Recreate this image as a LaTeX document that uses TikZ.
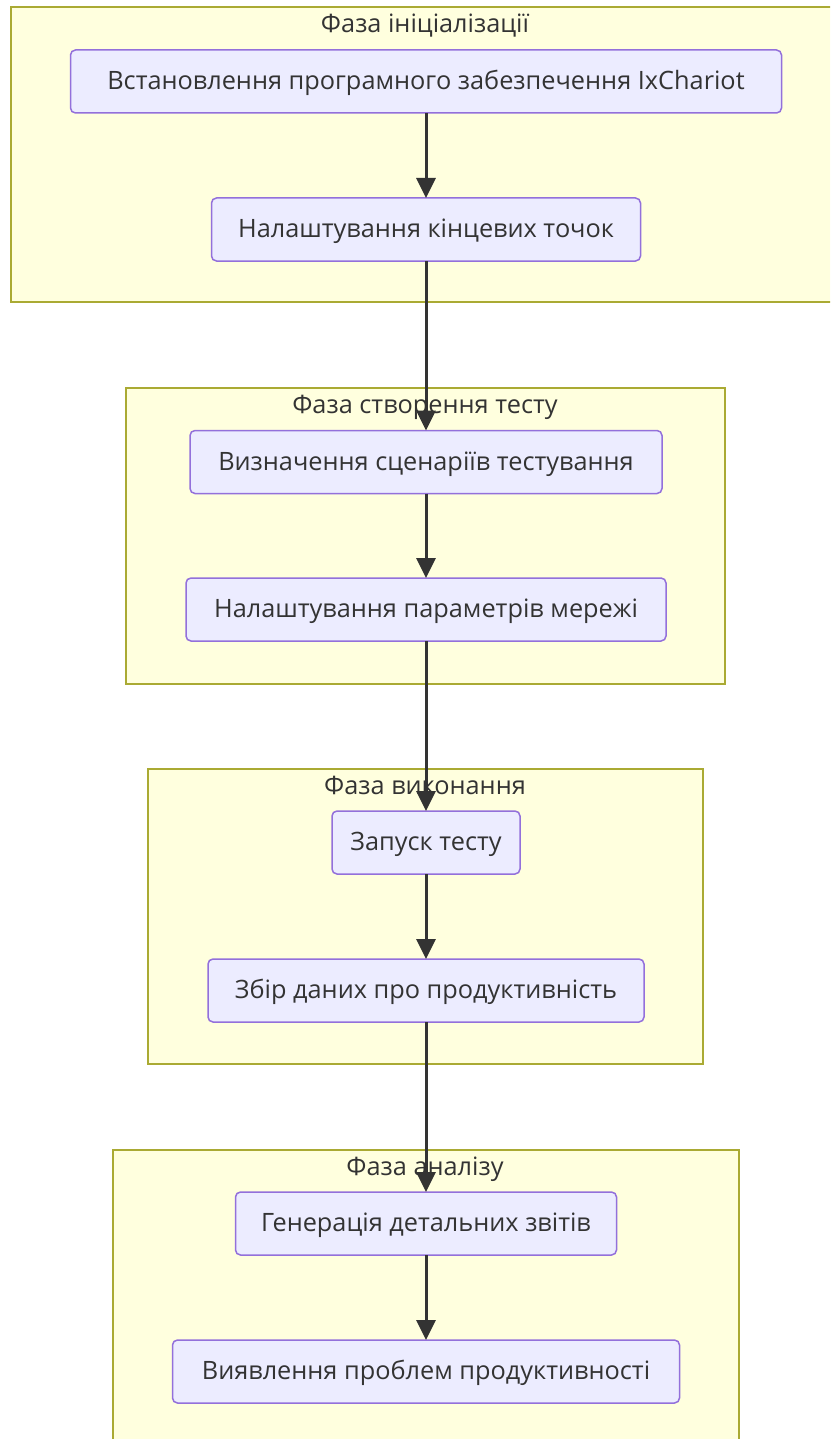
\documentclass[tikz,border=0pt]{standalone}
\usepackage{fontspec}
\setmainfont{Open Sans}
\usetikzlibrary{arrows.meta}
\definecolor{clusterfill}{HTML}{FFFFDE}
\definecolor{clusterline}{HTML}{AAAA33}
\definecolor{stepfill}{HTML}{ECECFF}
\definecolor{stepline}{HTML}{9370DB}
\definecolor{ink}{HTML}{333333}
\tikzset{
  phase/.style={draw=clusterline, fill=clusterfill, line width=1.6pt},
  phasetitle/.style={text=ink, font=\fontsize{25.3}{30}\selectfont,
    text height=18pt, text depth=5pt, inner sep=0pt},
  stepbox/.style={rectangle, rounded corners=5pt, draw=stepline, fill=stepfill,
    line width=1.5pt, text=ink, font=\fontsize{25.3}{30}\selectfont,
    minimum height=63pt, text height=19.5pt, text depth=3.5pt, outer sep=0pt},
  flow/.style={draw=ink, line width=3pt,
    -{Triangle[length=20pt, width=19pt]}}
}
\begin{document}
\begin{tikzpicture}[x=1pt, y=-1pt]
  \useasboundingbox (0,0) rectangle (830,1439);
  \clip (0,0) rectangle (830,1439);

  % phase frames
  \draw[phase] (11,7) rectangle (845,302);
  \draw[phase] (126,388) rectangle (725,684);
  \draw[phase] (148,769) rectangle (703,1064);
  \draw[phase] (113,1150) rectangle (739,1460);

  % phase titles
  \node[phasetitle] (t1) at (425,26) {Фаза ініціалізації};
  \node[phasetitle] (t2) at (425,407) {Фаза створення тесту};
  \node[phasetitle] (t3) at (425,788) {Фаза виконання};
  \node[phasetitle] (t4) at (425,1169) {Фаза аналізу};

  % steps
  \node[stepbox, minimum width=711pt] (n1) at (426,81.5) {Встановлення програмного забезпечення IxChariot};
  \node[stepbox, minimum width=429pt] (n2) at (426,229.5) {Налаштування кінцевих точок};
  \node[stepbox, minimum width=472pt] (n3) at (426,462) {Визначення сценаріїв тестування};
  \node[stepbox, minimum width=480pt] (n4) at (426,609.5) {Налаштування параметрів мережі};
  \node[stepbox, minimum width=188pt] (n5) at (426,842.5) {Запуск тесту};
  \node[stepbox, minimum width=436pt] (n6) at (426,990.5) {Збір даних про продуктивність};
  \node[stepbox, minimum width=381pt] (n7) at (426,1223.5) {Генерація детальних звітів};
  \node[stepbox, minimum width=507pt] (n8) at (426,1371.5) {Виявлення проблем продуктивності};

  % connectors
  \draw[flow] (n1.south) -- (n2.north);
  \draw[flow] (n2.south) -- (n3.north);
  \draw[flow] (n3.south) -- (n4.north);
  \draw[flow] (n4.south) -- (n5.north);
  \draw[flow] (n5.south) -- (n6.north);
  \draw[flow] (n6.south) -- (n7.north);
  \draw[flow] (n7.south) -- (n8.north);
\end{tikzpicture}
\end{document}
